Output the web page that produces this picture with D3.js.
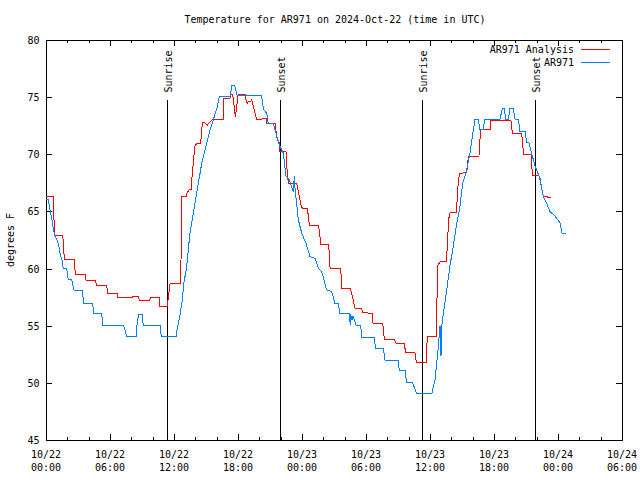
<!DOCTYPE html>
<html><head><meta charset="utf-8">
<script src="https://cdn.jsdelivr.net/npm/d3@7/dist/d3.min.js"></script>
<style>
html,body{margin:0;padding:0;background:#fff;}
svg{display:block;}
text{font-family:"DejaVu Sans Mono","Liberation Mono",monospace;font-size:10px;fill:#000;}
</style></head>
<body>
<svg id="chart" width="640" height="480"></svg>
<script>
// ---------- data ----------
const titleText = "Temperature for AR971 on 2024-Oct-22 (time in UTC)";
const yLabelText = "degrees F";
const startUTC = "2024-10-22T00:00:00Z";
const xDomainHours = [0, 54];
const yDomain = [45, 80];
const yTicks = [45, 50, 55, 60, 65, 70, 75, 80];
const seriesNames = ["AR971 Analysis", "AR971"];
const seriesColors = ["#ff0000", "#0080ff"];

// hours since 2024-10-22 00:00 UTC
const redHours = [0,0.68,0.8,1.5,1.57,1.72,2.65,2.75,3.68,3.75,4.62,4.75,5.69,5.78,6.66,6.72,7.66,7.69,8.13,8.16,8.65,8.75,9.69,9.82,10.62,10.69,11.37,11.47,11.63,12.63,12.68,12.72,13.13,13.22,13.41,13.66,13.69,13.81,13.94,14.13,14.5,14.56,14.66,14.91,15.12,15.53,15.68,16.62,16.66,17.25,17.32,17.5,17.63,17.75,17.88,18.0,18.66,18.75,18.87,18.97,19.19,19.28,19.44,19.59,19.75,20.22,20.37,20.63,20.69,21.47,21.68,21.84,21.87,22.5,22.62,22.72,23.5,23.56,23.81,23.91,24.03,24.5,24.56,24.69,25.53,25.62,25.75,26.5,26.63,27.63,27.72,28.53,28.66,28.97,29.6,29.69,30.59,30.66,31.57,31.72,32.63,32.81,33.63,33.68,34.59,34.72,35.63,35.75,36.63,36.68,36.94,37.56,37.62,37.81,37.9,38.5,38.56,38.69,38.75,39.44,39.5,39.59,40.59,40.62,40.75,41.63,41.69,43.59,43.66,43.72,44.6,44.65,44.78,45.47,45.53,45.63,46.22,46.31,46.62,47.32];
const redTemps = [66.3,66.3,62.85,62.9,62.9,60.8,60.8,59.45,59.45,59.0,59.0,58.55,58.55,57.85,57.85,57.5,57.5,57.43,57.43,57.6,57.6,57.25,57.25,57.43,57.43,56.67,56.67,57.54,58.7,58.7,62.5,66.3,66.3,66.6,66.9,66.9,68.05,69.2,70.66,70.96,70.96,71.7,72.75,72.75,72.56,73.0,73.06,73.06,74.9,74.9,75.2,75.2,74.3,73.3,74.16,75.2,75.25,74.75,74.46,74.6,74.6,74.75,74.16,73.6,73.06,73.06,73.15,73.15,72.71,72.71,71.25,71.25,70.23,70.23,68.34,67.46,67.46,67.16,66.0,65.56,65.27,65.27,64.84,63.81,63.81,63.38,62.15,62.15,60.05,60.05,58.3,58.3,57.84,56.52,56.52,56.14,56.09,55.21,55.21,53.81,53.81,53.46,53.46,52.64,52.64,51.8,51.8,54.07,54.07,60.16,60.6,60.6,62.21,64.84,64.89,64.89,66.59,67.75,68.34,68.39,68.91,69.79,69.79,70.38,72.13,72.13,72.97,72.97,72.41,71.78,71.78,71.25,69.94,69.94,69.06,68.13,68.13,67.75,66.29,66.24];

const blueHours = [0,0.22,0.375,0.56,0.7,0.84,1.15,1.38,1.47,1.62,1.94,2.0,2.09,2.41,2.47,2.65,3.4,3.47,3.5,4.34,4.43,4.5,5.22,5.28,5.32,7.25,7.41,7.57,8.44,8.5,8.69,9.0,9.07,9.12,10.69,10.75,10.81,12.19,12.25,12.56,12.82,12.87,13.19,13.43,13.5,13.81,14.18,14.6,15.07,15.38,15.68,16.06,16.25,17.25,17.44,17.69,17.93,20.22,20.32,20.44,20.69,20.84,21.31,21.56,21.87,22.25,22.5,22.81,23.03,23.18,23.28,23.37,23.44,23.66,23.97,24.38,24.75,25.22,25.53,25.85,26.31,26.78,27.09,27.4,27.56,28.43,28.53,28.56,28.69,28.78,29.06,29.5,29.6,30.75,30.91,31.62,31.78,33.03,33.12,33.66,33.81,34.38,34.75,36.16,36.47,36.78,36.94,37.03,37.1,37.22,37.57,37.88,38.18,38.5,38.81,39.06,39.28,39.5,39.75,39.97,40.22,40.53,40.69,41.03,41.09,42.56,42.78,42.97,43.1,43.34,43.5,43.81,43.97,44.28,44.44,44.91,45.06,45.28,45.53,45.84,46.31,46.62,46.94,47.25,47.72,48.19,48.4,48.72];
const blueTemps = [66.06,66.06,65.1,64.25,63.4,62.94,62.21,61.04,60.9,60.02,60.02,59.59,59.06,59.06,58.71,58.04,58.04,57.54,56.96,56.96,56.52,56.03,56.03,55.5,55.04,55.04,54.63,54.04,54.04,54.91,56.0,56.0,55.5,55.04,55.04,54.63,54.04,54.04,54.48,55.94,57.54,58.41,60.16,62.5,63.09,64.84,66.88,69.21,70.96,72.13,73.0,74.16,75.1,75.1,76.04,76.04,75.13,75.13,74.31,73.88,73.59,72.71,72.71,71.84,70.81,70.09,68.1,67.75,67.16,66.7,68.1,66.7,66.17,64.25,63.09,62.21,61.04,60.9,60.02,59.73,58.13,57.98,56.96,56.96,56.09,56.03,55.06,56.03,55.5,55.85,55.06,55.06,53.98,53.98,53.02,53.02,52.0,52.0,51.06,51.06,50.01,50.01,49.03,49.03,50.25,53.16,54.98,52.35,54.98,55.85,58.13,60.31,61.91,63.96,65.41,67.46,68.1,68.91,70.14,71.54,73.06,73.06,72.13,72.13,73.06,73.06,74.02,74.02,73.06,73.06,74.02,74.02,73.06,73.06,71.98,71.98,71.01,71.01,70.09,68.98,67.9,66.29,65.71,64.98,64.6,64.01,63.03,63.03];

const sunLabels = ["Sunrise", "Sunset", "Sunrise", "Sunset"];
const sunHours = [11.37, 21.97, 35.28, 45.87];
const sunLineFraction = 0.85;

// ---------- drawing ----------
const W = 640, H = 480;
const M = {left: 46, right: 18, top: 40, bottom: 40};
const t0 = new Date(startUTC).getTime();
const toDate = h => new Date(t0 + h * 3600000);

const svg = d3.select("#chart");
svg.append("rect").attr("width", W).attr("height", H).attr("fill", "#fff");

const x = d3.scaleUtc().domain(xDomainHours.map(toDate)).range([M.left, W - M.right]);
const y = d3.scaleLinear().domain(yDomain).range([H - M.bottom, M.top]);

const majorTicks = d3.utcHour.every(6).range(toDate(xDomainHours[0]), toDate(xDomainHours[1] + 0.01));
const minorTicks = d3.utcHour.every(2).range(toDate(xDomainHours[0]), toDate(xDomainHours[1] + 0.01));

function clean(g) { g.select(".domain").remove(); g.selectAll(".tick line").attr("stroke", "#000").attr("shape-rendering", "crispEdges"); }

// bottom
svg.append("g").attr("transform", `translate(0,${H - M.bottom})`)
  .call(d3.axisBottom(x).tickValues(minorTicks).tickSize(-3).tickFormat("")).call(clean);
svg.append("g").attr("transform", `translate(0,${H - M.bottom})`)
  .call(d3.axisBottom(x).tickValues(majorTicks).tickSize(-6).tickFormat("")).call(clean);
// top
svg.append("g").attr("transform", `translate(0,${M.top})`)
  .call(d3.axisTop(x).tickValues(minorTicks).tickSize(-3).tickFormat("")).call(clean);
svg.append("g").attr("transform", `translate(0,${M.top})`)
  .call(d3.axisTop(x).tickValues(majorTicks).tickSize(-6).tickFormat("")).call(clean);
// left
const gl = svg.append("g").attr("transform", `translate(${M.left},0)`)
  .call(d3.axisLeft(y).tickValues(yTicks).tickSize(-6).tickPadding(6.5).tickFormat(d3.format("d"))).call(clean);
gl.selectAll(".tick text").attr("font-family", null).attr("font-size", null).attr("dy", "0.35em");
// right
svg.append("g").attr("transform", `translate(${W - M.right},0)`)
  .call(d3.axisRight(y).tickValues(yTicks).tickSize(-6).tickFormat("")).call(clean);

// x tick labels (two lines)
const fDay = d3.utcFormat("%m/%d"), fTime = d3.utcFormat("%H:%M");
const xl = svg.append("g");
majorTicks.forEach(d => {
  const t = xl.append("text").attr("x", x(d)).attr("text-anchor", "middle");
  t.append("tspan").attr("x", x(d)).attr("y", 458).text(fDay(d));
  t.append("tspan").attr("x", x(d)).attr("y", 470.5).text(fTime(d));
});

// border
svg.append("rect").attr("x", M.left).attr("y", M.top)
  .attr("width", W - M.left - M.right).attr("height", H - M.top - M.bottom)
  .attr("fill", "none").attr("stroke", "#000").attr("shape-rendering", "crispEdges");

// sunrise / sunset markers
const yTopMarker = y.range()[0] + (y.range()[1] - y.range()[0]) * sunLineFraction;
sunHours.forEach((h, i) => {
  const xp = x(toDate(h));
  svg.append("line").attr("x1", xp).attr("x2", xp).attr("y1", y.range()[0]).attr("y2", yTopMarker)
    .attr("stroke", "#000").attr("shape-rendering", "crispEdges");
  svg.append("text").attr("transform", `translate(${xp + 1.5},${yTopMarker - 7.5}) rotate(-90)`)
    .attr("dominant-baseline", "central").attr("text-anchor", "start").text(sunLabels[i]);
});

// series
const line = d3.line().x(d => x(toDate(d[0]))).y(d => y(d[1]));
const redData = redHours.map((h, i) => [h, redTemps[i]]);
const blueData = blueHours.map((h, i) => [h, blueTemps[i]]);
svg.append("path").datum(redData).attr("d", line).attr("fill", "none")
  .attr("stroke", seriesColors[0]).attr("stroke-width", 1).attr("shape-rendering", "crispEdges");
svg.append("path").datum(blueData).attr("d", line).attr("fill", "none")
  .attr("stroke", seriesColors[1]).attr("stroke-width", 1).attr("shape-rendering", "crispEdges");

// legend
const legY = [49.5, 62.5];
seriesNames.forEach((n, i) => {
  svg.append("text").attr("x", 574).attr("y", legY[i]).attr("dominant-baseline", "central")
    .attr("text-anchor", "end").text(n);
  svg.append("line").attr("x1", 581).attr("x2", 610).attr("y1", legY[i]).attr("y2", legY[i])
    .attr("stroke", seriesColors[i]).attr("shape-rendering", "crispEdges");
});

// title and y label
svg.append("text").attr("x", (M.left + W - M.right) / 2 + 1).attr("y", 19)
  .attr("dominant-baseline", "central").attr("text-anchor", "middle").text(titleText);
svg.append("text").attr("transform", `translate(10,${(M.top + H - M.bottom) / 2}) rotate(-90)`)
  .attr("dominant-baseline", "central").attr("text-anchor", "middle").text(yLabelText);
</script>
</body></html>
